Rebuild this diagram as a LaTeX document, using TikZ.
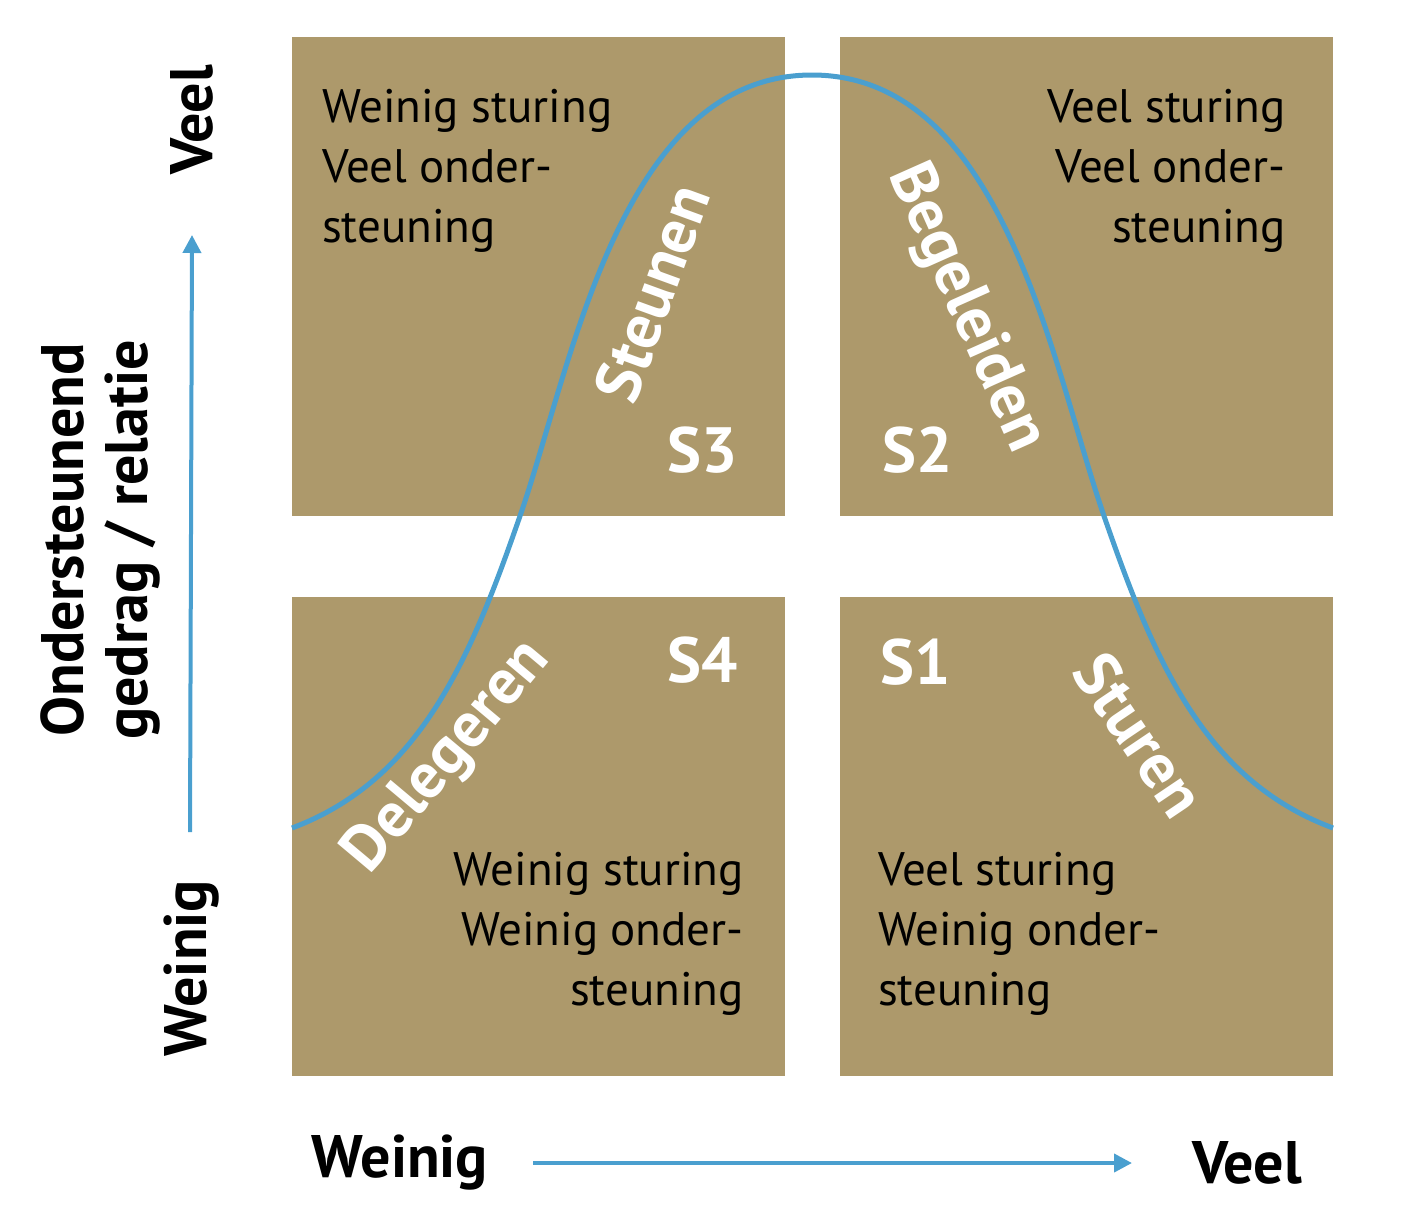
\documentclass[tikz,border=0pt]{standalone}
\usepackage{fontspec}
\setmainfont{PT Sans}
\usetikzlibrary{arrows.meta}
\definecolor{gold}{HTML}{AD996B}
\definecolor{lblue}{HTML}{4A9FCF}
\begin{document}
\begin{tikzpicture}[x=1pt,y=-1pt,
 box/.style={fill=gold,draw=none},
 txt/.style={font=\fontsize{47}{60}\selectfont,text=black,inner sep=0,align=#1},
 wl/.style={font=\fontsize{64}{64}\selectfont\bfseries,text=white,inner sep=0},
 ax/.style={font=\fontsize{60}{64}\selectfont\bfseries,text=black,inner sep=0},
 arr/.style={lblue,line width=4,-{Triangle[length=18,width=18]}}]
\useasboundingbox (0,0) rectangle (1418,1216);
\fill[box] (292,37) rectangle (785,516);
\fill[box] (840,37) rectangle (1333,516);
\fill[box] (292,597) rectangle (785,1076);
\fill[box] (840,597) rectangle (1333,1076);
\draw[lblue,line width=5] (292,828) .. controls (420,780) and (470,660) .. (520,516)
  .. controls (572,366) and (620,75) .. (812,75)
  .. controls (1004,75) and (1052,366) .. (1104,516)
  .. controls (1154,660) and (1204,780) .. (1333,828);
\node[txt=left,anchor=north west] (tl) at (322,89) {Weinig sturing\\Veel onder-\\steuning};
\node[txt=right,anchor=north east] (tr) at (1286,89) {Veel sturing\\Veel onder-\\steuning};
\node[txt=right,anchor=north east] (bl) at (744,852) {Weinig sturing\\Weinig onder-\\steuning};
\node[txt=left,anchor=north west] (br) at (878,852) {Veel sturing\\Weinig onder-\\steuning};
\node[wl] (s3) at (703,450) {S3};
\node[wl] (s2) at (918,450) {S2};
\node[wl] (s4) at (703,660) {S4};
\node[wl] (s1) at (916,662) {S1};
\node[wl,rotate=70] (st) at (652,293) {Steunen};
\node[wl,rotate=-66] (bg) at (966,308) {Begeleiden};
\node[wl,rotate=50] (dl) at (448,757) {Delegeren};
\node[wl,rotate=-56] (su) at (1140,735) {Sturen};
\node[ax,rotate=90] (yv) at (192,120) {Veel};
\node[ax,rotate=90] (yw) at (192,968) {Weinig};
\node[ax,rotate=90,align=center] (yl) at (100,540) {Ondersteunend\\gedrag / relatie};
\node[ax] (xw) at (400,1163) {Weinig};
\node[ax] (xv) at (1247,1163) {Veel};
\coordinate (ya) at (190,832); \coordinate (yb) at (192,235);
\coordinate (xa) at (533,1163); \coordinate (xb) at (1132,1163);
\draw[arr] (ya) -- (yb);
\draw[arr] (xa) -- (xb);
\end{tikzpicture}
\end{document}
